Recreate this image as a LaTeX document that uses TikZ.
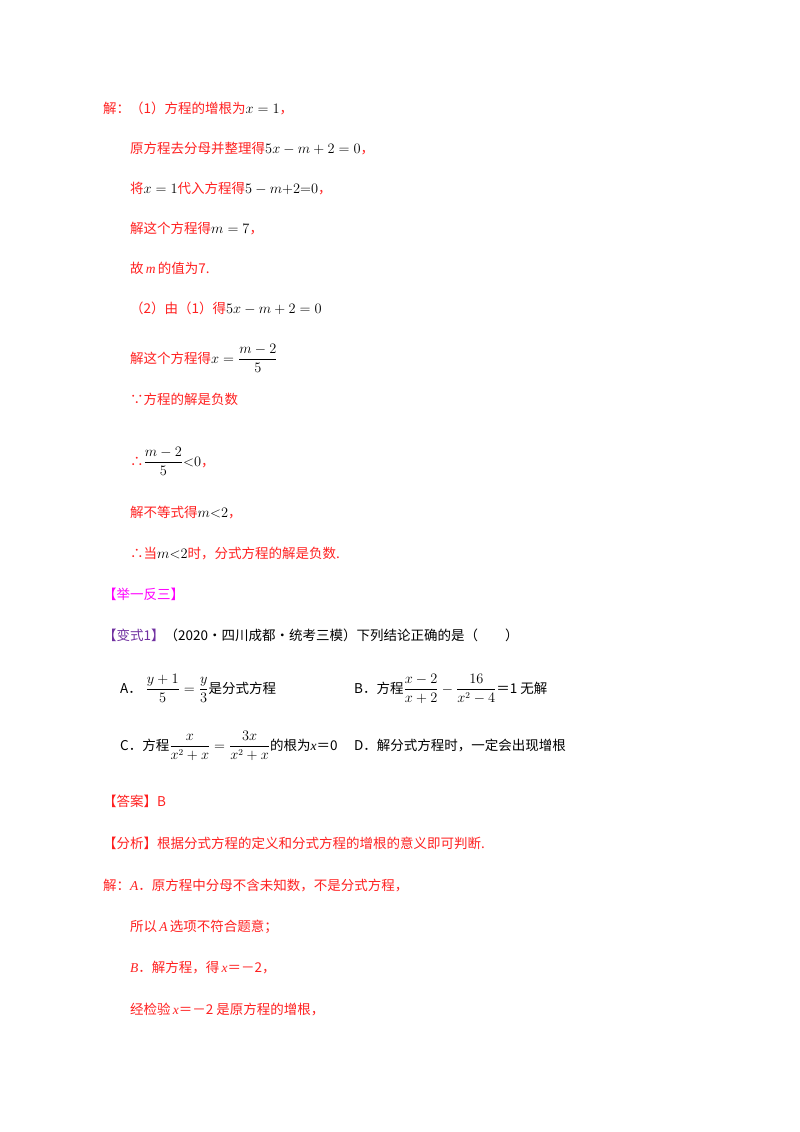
\documentclass[tikz,border=0pt]{standalone}
\usepackage{amsmath}
\usepackage{fontspec}
\setmainfont{Noto Sans CJK SC}
\newfontfamily\ser{Liberation Serif}
\definecolor{rd}{HTML}{FF2020}
\definecolor{mg}{HTML}{FF00FF}
\definecolor{pu}{HTML}{7030A0}
\newcommand{\K}[1]{{\color{black}$#1$}}
\newcommand{\Ki}[1]{{\ser\itshape #1}}
\begin{document}
\begin{tikzpicture}[x=1pt,y=-1pt,
  t/.style={anchor=base west,inner sep=0,font=\fontsize{13.5}{14}\selectfont,text=rd}]
\useasboundingbox (0,0) rectangle (800,1132);
\node[t] (l1) at (103,113) {解：（1）方程的增根为\K{x=1}，};
\node[t] (l2) at (130,153) {原方程去分母并整理得\K{5x-m+2=0}，};
\node[t] (l3) at (130,193) {将\K{x=1}代入方程得\K{5-m{+}2{=}0}，};
\node[t] (l4) at (130,233) {解这个方程得\K{m=7}，};
\node[t] (l5) at (130,273) {故\,\Ki{m}\,的值为7.};
\node[t] (l6) at (130,313) {（2）由（1）得\K{5x-m+2=0}};
\node[t] (l7) at (130,363) {解这个方程得\K{x=\dfrac{m-2}{5}}};
\node[t] (l8) at (130,404) {∵方程的解是负数};
\node[t] (l9) at (130,466) {∴\K{\dfrac{m-2}{5}{<}0}，};
\node[t] (l10) at (130,517) {解不等式得\K{m{<}2}，};
\node[t] (l11) at (130,558) {∴当\K{m{<}2}时，分式方程的解是负数.};
\node[t,text=mg] (h1) at (103,599) {【举一反三】};
\node[t,text=black] (q) at (103,640) {{\color{pu}【变式1】}（2020·四川成都·统考三模）下列结论正确的是（\quad\quad）};
\node[t,text=black] (oa) at (120,693) {A．\;\K{\dfrac{y+1}{5}=\dfrac{y}{3}}是分式方程};
\node[t,text=black] (ob) at (354,693) {B．方程\K{\dfrac{x-2}{x+2}-\dfrac{16}{x^2-4}}＝1 无解};
\node[t,text=black] (oc) at (120,750) {C．方程\K{\dfrac{x}{x^2+x}=\dfrac{3x}{x^2+x}}的根为\Ki{x}＝0};
\node[t,text=black] (od) at (354,750) {D．解分式方程时，一定会出现增根};
\node[t] (ans) at (103,806) {【答案】B};
\node[t] (an) at (103,848) {【分析】根据分式方程的定义和分式方程的增根的意义即可判断.};
\node[t] (s1) at (103,890) {解：\Ki{A}．原方程中分母不含未知数，不是分式方程，};
\node[t] (s2) at (130,931) {所以\,\Ki{A}\,选项不符合题意；};
\node[t] (s3) at (130,972) {\Ki{B}．解方程，得\,\Ki{x}＝－2，};
\node[t] (s4) at (130,1014) {经检验\,\Ki{x}＝－2 是原方程的增根，};
\end{tikzpicture}
\end{document}
